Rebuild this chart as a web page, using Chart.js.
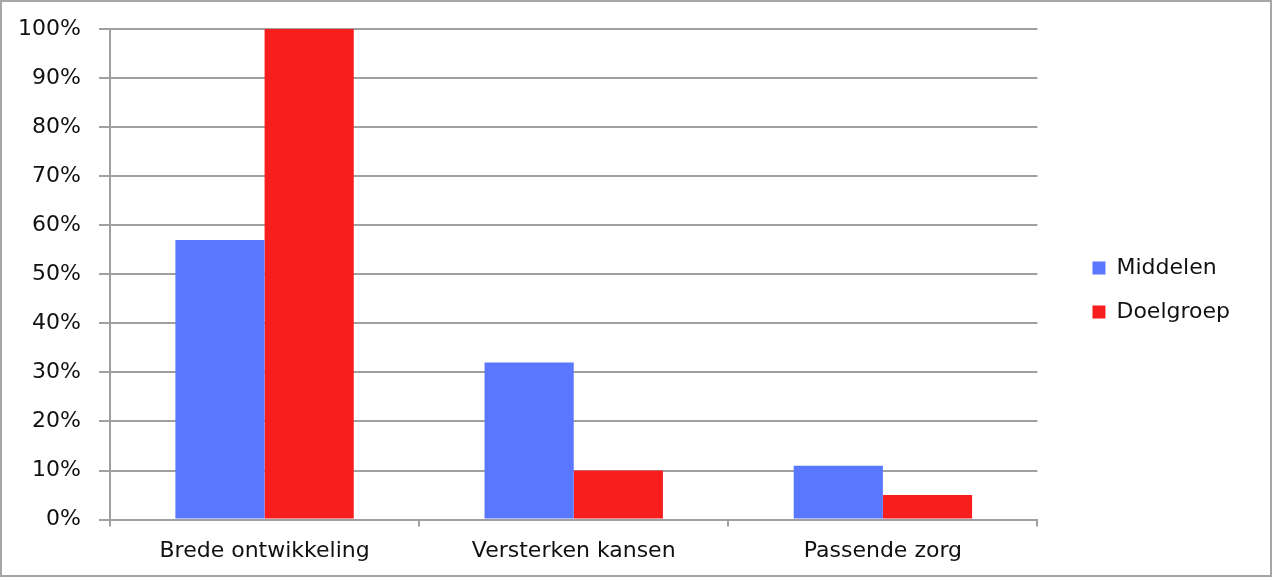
<!DOCTYPE html>
<html>
<head>
<meta charset="utf-8">
<script src="https://cdn.jsdelivr.net/npm/chart.js@4.4.1/dist/chart.umd.min.js"></script>
<style>
  body { margin: 0; background: #fff; }
  #wrap { position: absolute; left: 0; top: 0; width: 1268px; height: 573px; border: 2px solid #a6a6a6; }
</style>
</head>
<body>
<div id="wrap"><canvas id="chart" width="1268" height="573"></canvas></div>
<script>
// categorieën en waarden (in %)
const categories = ['Brede ontwikkeling', 'Versterken kansen', 'Passende zorg'];
const middelen = [57, 32, 11];
const doelgroep = [100, 10, 5];
const yTicks = [0, 10, 20, 30, 40, 50, 60, 70, 80, 90, 100];

const fontFamily = 'DejaVu Sans';
const fontSize = 22;
const gridColor = '#a0a0a0';

const ctx = document.getElementById('chart').getContext('2d');

new Chart(ctx, {
    type: 'bar',
    data: {
        labels: categories,
        datasets: [{
            label: 'Middelen',
            data: middelen,
            backgroundColor: '#5a78ff',
            borderWidth: 0
        }, {
            label: 'Doelgroep',
            data: doelgroep,
            backgroundColor: '#f81e1e',
            borderWidth: 0
        }]
    },
    options: {
        responsive: false,
        animation: false,
        devicePixelRatio: 1,
        layout: {
            padding: { top: 3, bottom: 0, left: 0, right: 30 }
        },
        datasets: {
            bar: { barPercentage: 1, categoryPercentage: 0.577 }
        },
        plugins: {
            tooltip: { enabled: false },
            legend: {
                position: 'right',
                labels: {
                    boxWidth: 13,
                    boxHeight: 13,
                    padding: 22,
                    color: '#111',
                    font: { family: fontFamily, size: fontSize }
                }
            }
        },
        scales: {
            x: {
                grid: {
                    offset: true,
                    drawOnChartArea: false,
                    tickLength: 7,
                    color: gridColor,
                    lineWidth: 2
                },
                border: { color: gridColor, width: 2 },
                ticks: {
                    color: '#111',
                    padding: 11,
                    font: { family: fontFamily, size: fontSize }
                }
            },
            y: {
                min: 0,
                max: 100,
                afterFit: function(scale) {
                    scale.width = 108;
                    // ruimte boven het plotvlak, legenda blijft hoger staan
                    scale.paddingTop = 27;
                    scale.paddingBottom = 0;
                },
                afterBuildTicks: function(scale) {
                    scale.ticks = yTicks.map(v => ({ value: v }));
                },
                grid: {
                    tickLength: 11,
                    color: gridColor,
                    lineWidth: 2
                },
                border: { color: gridColor, width: 2 },
                ticks: {
                    color: '#111',
                    padding: 18,
                    font: { family: fontFamily, size: fontSize },
                    callback: function(value) { return value + '%'; }
                }
            },
            // lege as als ruimte tussen plot en legenda
            spacer: {
                type: 'linear',
                position: 'right',
                afterFit: function(scale) {
                    scale.width = 33;
                    scale.paddingTop = 0;
                    scale.paddingBottom = 0;
                },
                grid: { display: false },
                border: { display: false },
                ticks: { display: false }
            }
        }
    }
});
</script>
</body>
</html>
